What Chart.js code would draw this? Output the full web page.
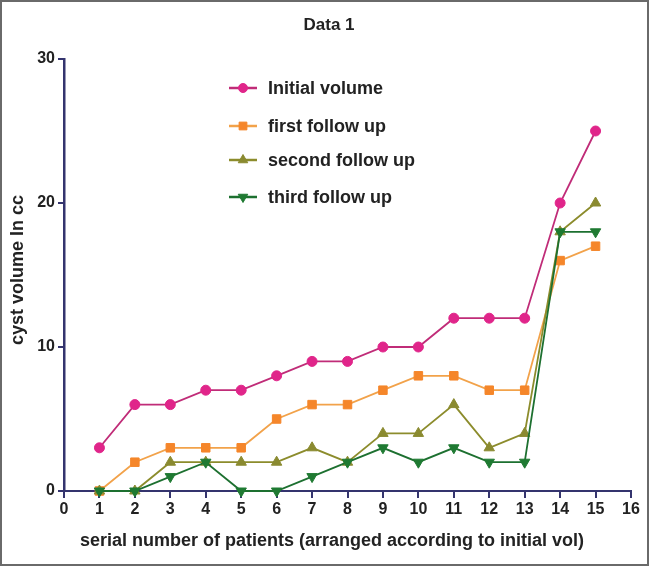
<!DOCTYPE html>
<html>
<head>
<meta charset="utf-8">
<script src="https://cdn.jsdelivr.net/npm/chart.js@4"></script>
<style>
  html, body { margin: 0; padding: 0; background: #fff; }
  #wrap { position: relative; width: 649px; height: 566px; }
</style>
</head>
<body>
<div id="wrap"><canvas id="chart" width="649" height="566"></canvas></div>
<script>
const patients     = [1, 2, 3, 4, 5, 6, 7, 8, 9, 10, 11, 12, 13, 14, 15];
const initialVol   = [3, 6, 6, 7, 7, 8, 9, 9, 10, 10, 12, 12, 12, 20, 25];
const firstFollow  = [0, 2, 3, 3, 3, 5, 6, 6, 7, 8, 8, 7, 7, 16, 17];
const secondFollow = [0, 0, 2, 2, 2, 2, 3, 2, 4, 4, 6, 3, 4, 18, 20];
const thirdFollow  = [0, 0, 1, 2, 0, 0, 1, 2, 3, 2, 3, 2, 2, 18, 18];
const xTicks = [0, 16, 1];   // min, max, step
const yTicks = [0, 30, 10];
const chartTitle = 'Data 1';
const xTitle = 'serial number of patients (arranged according to initial vol)';
const yTitle = 'cyst volume In cc';

const AXIS = '#34346e';
const INK = '#222';
const FONT = '"Liberation Sans", Arial, sans-serif';

const pts = vals => patients.map((p, i) => ({ x: p, y: vals[i] }));

function series(label, vals, line, fill, style, radius, rotation, order) {
  return {
    label, data: pts(vals), borderColor: line, backgroundColor: fill,
    pointBackgroundColor: fill, pointBorderColor: fill, pointBorderWidth: 1,
    pointStyle: style, pointRadius: radius, pointRotation: rotation,
    borderWidth: 1.8, tension: 0, clip: false, order
  };
}

const datasets = [
  series('Initial volume',     initialVol,   '#c02c78', '#e0258a', 'circle',   5,   0, 3),
  series('first follow up',    firstFollow,  '#f2a24a', '#f5862a', 'rect',     6,   0, 2),
  series('second follow up',   secondFollow, '#8c8c2c', '#8a8a30', 'triangle', 6,   0, 1),
  series('third follow up',    thirdFollow,  '#1d7030', '#1f7a32', 'triangle', 6, 180, 0),
];

// titles, in-plot legend and outer frame
const decor = {
  id: 'decor',
  afterDraw(chart) {
    const ctx = chart.ctx;
    ctx.save();
    ctx.fillStyle = INK;
    ctx.textAlign = 'center';
    ctx.textBaseline = 'middle';
    ctx.font = 'bold 17px ' + FONT;
    ctx.fillText(chartTitle, 329, 25);

    ctx.font = 'bold 18px ' + FONT;
    ctx.fillText(xTitle, 332, 541);
    ctx.save();
    ctx.translate(18, 270);
    ctx.rotate(-Math.PI / 2);
    ctx.fillText(yTitle, 0, 0);
    ctx.restore();

    const rows = [88, 126, 160, 197];
    ctx.textAlign = 'left';
    chart.data.datasets.forEach((ds, i) => {
      const y = rows[i];
      ctx.strokeStyle = ds.borderColor;
      ctx.lineWidth = 2.5;
      ctx.beginPath(); ctx.moveTo(229, y); ctx.lineTo(257, y); ctx.stroke();
      ctx.fillStyle = ds.pointBackgroundColor;
      ctx.strokeStyle = ds.pointBorderColor;
      ctx.lineWidth = 1;
      Chart.helpers.drawPoint(ctx, { pointStyle: ds.pointStyle, radius: ds.pointRadius - 0.5, rotation: ds.pointRotation, borderWidth: 1 }, 243, y);
      ctx.fillStyle = INK;
      ctx.fillText(ds.label, 268, y + 1);
    });

    ctx.strokeStyle = '#6a6a6a';
    ctx.lineWidth = 2;
    ctx.strokeRect(1, 1, chart.width - 2, chart.height - 2);
    ctx.restore();
  }
};

new Chart(document.getElementById('chart'), {
  type: 'line',
  data: { datasets },
  options: {
    responsive: false, animation: false,
    layout: { padding: { top: 59, right: 18, left: 0, bottom: 0 } },
    plugins: { legend: { display: false }, tooltip: { enabled: false } },
    scales: {
      x: {
        type: 'linear', min: xTicks[0], max: xTicks[1],
        afterFit: s => { s.height = 75; },
        ticks: { stepSize: xTicks[2], color: INK, padding: 2, font: { family: FONT, size: 16, weight: 'bold' } },
        grid: { drawOnChartArea: false, drawTicks: true, tickLength: 7, color: AXIS, lineWidth: 2 },
        border: { color: AXIS, width: 2 }
      },
      y: {
        min: yTicks[0], max: yTicks[1],
        afterFit: s => { s.width = 64; },
        ticks: { stepSize: yTicks[2], color: INK, padding: 3, font: { family: FONT, size: 16, weight: 'bold' } },
        grid: { drawOnChartArea: false, drawTicks: true, tickLength: 6, color: AXIS, lineWidth: 2 },
        border: { color: AXIS, width: 2.5 }
      }
    }
  },
  plugins: [decor]
});
</script>
</body>
</html>
